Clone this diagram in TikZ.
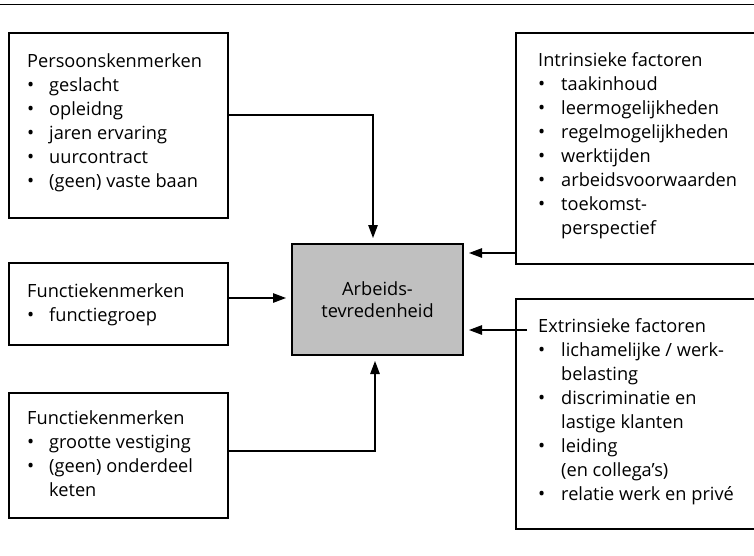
\documentclass[tikz,border=0pt]{standalone}
\usepackage{fontspec}
\setmainfont{Open Sans}
\usetikzlibrary{arrows.meta}
\newcommand{\bul}{{\fontsize{19}{19}\selectfont •}}
\tikzset{
  box/.style={draw=black, line width=1.2pt, inner sep=0pt, outer sep=0pt, anchor=north west},
  txt/.style={inner sep=0pt, anchor=base west, font=\fontsize{18.2}{24}\selectfont},
  conn/.style={line width=1.2pt, -{Triangle[length=13pt,width=9.5pt]}, shorten >=6pt},
  rule/.style={line width=1.4pt},
}
\begin{document}
\begin{tikzpicture}[x=1pt,y=-1pt]
\clip (0,0) rectangle (754,555);
\useasboundingbox (0,0) rectangle (754,555);
\draw[rule] (0,4.5) -- (754,4.5);
% boxes
\node[box, minimum width=219pt, minimum height=185pt] (p) at (9,33) {};
\node[box, minimum width=219pt, minimum height=82pt] (f) at (9,263) {};
\node[box, minimum width=219pt, minimum height=125pt] (g) at (9,393) {};
\node[box, minimum width=260pt, minimum height=231pt] (i) at (516,33) {};
\node[box, minimum width=260pt, minimum height=230pt] (e) at (516,299) {};
\node[box, fill={rgb,255:red,192;green,192;blue,192}, minimum width=171pt, minimum height=111pt,
      align=center, font=\fontsize{18.2}{22}\selectfont] (c) at (292,244) {Arbeids-\\tevredenheid};
% texts
\node[txt] (pt) at (27,67) {\begin{tabular}[t]{@{}p{22pt}@{}l@{}}
\multicolumn{2}{@{}l@{}}{Persoonskenmerken}\\
\bul & geslacht\\
\bul & opleidng\\
\bul & jaren ervaring\\
\bul & uurcontract\\
\bul & (geen) vaste baan
\end{tabular}};
\node[txt] (ft) at (27,297) {\begin{tabular}[t]{@{}p{22pt}@{}l@{}}
\multicolumn{2}{@{}l@{}}{Functiekenmerken}\\
\bul & functiegroep
\end{tabular}};
\node[txt] (gt) at (27,424) {\begin{tabular}[t]{@{}p{22pt}@{}l@{}}
\multicolumn{2}{@{}l@{}}{Functiekenmerken}\\
\bul & grootte vestiging\\
\bul & (geen) onderdeel\\
 & keten
\end{tabular}};
\node[txt] (it) at (538,66) {\begin{tabular}[t]{@{}p{23pt}@{}l@{}}
\multicolumn{2}{@{}l@{}}{Intrinsieke factoren}\\
\bul & taakinhoud\\
\bul & leermogelijkheden\\
\bul & regelmogelijkheden\\
\bul & werktijden\\
\bul & arbeidsvoorwaarden\\
\bul & toekomst-\\
 & perspectief
\end{tabular}};
\node[txt] (et) at (538,332) {\begin{tabular}[t]{@{}p{23pt}@{}l@{}}
\multicolumn{2}{@{}l@{}}{Extrinsieke factoren}\\
\bul & lichamelijke / werk-\\
 & belasting\\
\bul & discriminatie en\\
 & lastige klanten\\
\bul & leiding\\
 & (en collega’s)\\
\bul & relatie werk en privé
\end{tabular}};
% connectors
\coordinate (po) at ([yshift=-82pt]p.north east);
\coordinate (fo) at ([yshift=6pt]f.east);
\coordinate (go) at ([yshift=-58pt]g.north east);
\coordinate (io) at ([yshift=11pt]i.south west);
\coordinate (eo) at ([xshift=11pt,yshift=-31pt]e.north west);
\draw[conn] (po) -| ([xshift=-4.5pt]c.north);
\draw[conn] (fo) -- (fo -| c.west);
\draw[conn] (go) -| ([xshift=-2.5pt]c.south);
\draw[conn] (io) -- (io -| c.east);
\draw[conn] (eo) -- (eo -| c.east);
\end{tikzpicture}
\end{document}
